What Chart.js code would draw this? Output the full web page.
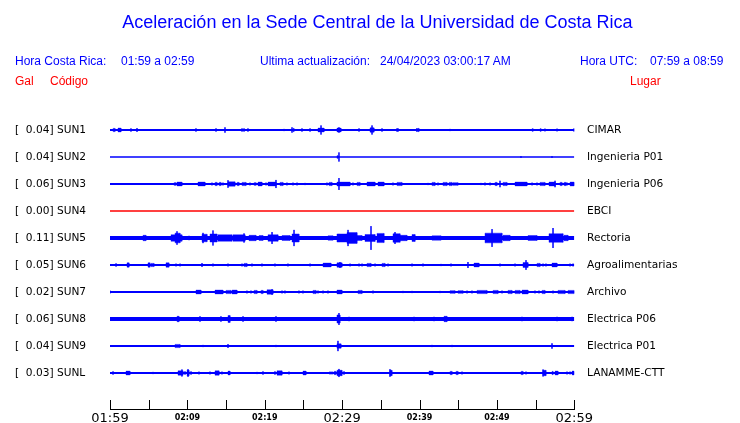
<!DOCTYPE html>
<html>
<head>
<meta charset="utf-8">
<script src="https://cdn.jsdelivr.net/npm/chart.js@4.4.0/dist/chart.umd.min.js"></script>
<style>
  html, body { margin:0; padding:0; background:#fff; overflow:hidden; }
  #wrap { position:relative; width:740px; height:423px; }
  canvas { position:absolute; left:0; top:0; }
  .t { position:absolute; font-family:'Liberation Sans', Arial, sans-serif; font-size:12px; line-height:14px; white-space:pre; }
  .blue { color:#0000ff; }
  .red { color:#ff0000; }
  #title { position:absolute; left:15px; width:725px; top:12px; text-align:center; font-family:'Liberation Sans', Arial, sans-serif; font-size:18px; line-height:20px; color:#0000ff; }
</style>
</head>
<body>
<div id="wrap">
  <canvas id="c" width="740" height="423"></canvas>
  <div id="title">Aceleración en la Sede Central de la Universidad de Costa Rica</div>
  <div class="t blue" style="left:15px; top:54px;">Hora Costa Rica:</div>
  <div class="t blue" style="left:121px; top:54px;">01:59 a 02:59</div>
  <div class="t blue" style="left:260px; top:54px;">Ultima actualización:</div>
  <div class="t blue" style="left:380px; top:54px;">24/04/2023 03:00:17 AM</div>
  <div class="t blue" style="left:580px; top:54px;">Hora UTC:</div>
  <div class="t blue" style="left:650px; top:54px;">07:59 a 08:59</div>
  <div class="t red" style="left:15px; top:73.5px;">Gal</div>
  <div class="t red" style="left:50px; top:73.5px;">Código</div>
  <div class="t red" style="left:630px; top:73.5px;">Lugar</div>
</div>
<script>
// ---------- data ----------
const stationCodes = ['SUN1','SUN2','SUN3','SUN4','SUN5','SUN6','SUN7','SUN8','SUN9','SUNL'];
const stationNames = ['CIMAR','Ingenieria P01','Ingenieria P06','EBCI','Rectoria','Agroalimentarias','Archivo','Electrica P06','Electrica P01','LANAMME-CTT'];
const peakGal = [0.04, 0.04, 0.06, 0.00, 0.11, 0.05, 0.02, 0.06, 0.04, 0.03];
const timeLabels = ['01:59','02:09','02:19','02:29','02:39','02:49','02:59'];
const tickMinutes = [0,5,10,15,20,25,30,35,40,45,50,55,60];

// bursts: [start minute, end minute, half amplitude (fraction of trace spacing)]
const sun1Bursts = [[0.39,0.65,0.06],[1.03,1.42,0.07],[2.71,2.71,0.06],[3.49,3.49,0.07],[11.11,11.11,0.06],[13.70,13.70,0.06],[14.86,14.86,0.1],[17.06,17.06,0.06],[17.32,17.32,0.06],[17.83,17.83,0.06],[22.49,22.49,0.04],[23.52,23.52,0.1],[23.65,23.78,0.06],[24.81,24.81,0.06],[25.85,25.85,0.06],[26.88,27.66,0.07],[27.27,27.27,0.17],[29.33,29.85,0.07],[29.59,29.59,0.1],[32.18,32.18,0.06],[33.60,34.12,0.08],[33.86,33.86,0.17],[35.15,35.15,0.06],[37.09,37.09,0.06],[37.22,37.22,0.06],[39.67,39.67,0.07],[39.80,39.93,0.06],[43.94,43.94,0.04],[53.11,53.11,0.03],[54.54,54.67,0.05],[55.57,55.70,0.05],[56.21,56.21,0.05],[57.77,57.77,0.05],[59.97,59.97,0.06]];
const sun2Bursts = [[29.33,29.46,0.05],[29.59,29.59,0.17],[53.11,53.11,0.03],[57.12,57.12,0.03]];
const sun3Bursts = [[8.27,8.53,0.05],[8.66,9.30,0.07],[11.37,12.28,0.07],[13.18,13.18,0.05],[13.57,13.83,0.06],[14.09,14.34,0.06],[14.60,14.60,0.05],[15.25,16.15,0.08],[15.25,15.25,0.14],[16.41,16.67,0.06],[17.06,17.58,0.06],[18.09,18.09,0.05],[18.61,18.87,0.05],[19.13,19.64,0.07],[20.16,20.16,0.05],[20.42,21.45,0.07],[21.45,21.45,0.15],[21.97,22.36,0.06],[22.87,22.87,0.05],[23.65,23.65,0.05],[24.17,24.17,0.05],[25.20,25.20,0.04],[28.04,28.04,0.05],[28.30,28.69,0.06],[29.33,31.02,0.07],[29.59,29.59,0.22],[31.40,31.40,0.05],[31.92,32.31,0.06],[33.21,34.25,0.07],[34.63,35.41,0.07],[36.57,36.57,0.05],[37.09,37.73,0.06],[41.10,41.10,0.04],[41.61,42.00,0.06],[42.39,42.39,0.05],[43.03,43.55,0.06],[43.81,44.20,0.06],[44.33,44.97,0.05],[47.94,47.94,0.04],[48.46,48.46,0.05],[49.11,49.11,0.05],[49.75,50.01,0.06],[50.40,50.40,0.12],[50.79,51.30,0.06],[52.34,53.89,0.07],[54.54,54.54,0.05],[55.18,55.18,0.05],[55.57,56.21,0.06],[56.73,57.51,0.07],[57.51,57.51,0.12],[58.15,58.41,0.06],[58.67,58.93,0.06],[59.06,59.06,0.05],[59.45,60,0.07]];
const sun4Bursts = [];
const sun5Bursts = [[4.26,4.65,0.1],[7.88,9.30,0.12],[8.40,9.05,0.18],[8.66,8.66,0.25],[10.21,10.21,0.08],[11.89,12.54,0.14],[12.02,12.02,0.19],[12.92,13.83,0.15],[13.31,13.31,0.28],[13.96,15.77,0.12],[15.89,17.45,0.12],[17.32,17.32,0.17],[17.96,18.87,0.1],[19.26,19.77,0.09],[20.42,21.71,0.12],[20.94,20.94,0.22],[22.23,23.26,0.09],[23.52,24.42,0.15],[23.78,23.78,0.3],[27.66,27.66,0.07],[28.17,28.82,0.08],[29.59,29.59,0.15],[29.33,30.63,0.15],[30.76,30.76,0.3],[30.63,31.92,0.2],[31.92,32.57,0.09],[32.95,34.25,0.13],[33.73,33.73,0.44],[34.50,35.41,0.17],[36.57,37.48,0.16],[36.83,36.83,0.22],[37.48,38.38,0.1],[39.03,39.42,0.13],[41.61,42.78,0.08],[43.55,43.55,0.07],[44.58,44.58,0.05],[46.14,46.14,0.06],[47.56,47.56,0.05],[48.46,50.66,0.18],[49.37,49.37,0.33],[50.79,51.69,0.1],[54.02,55.18,0.09],[56.73,58.54,0.16],[57.25,57.25,0.37],[58.67,59.19,0.1]];
const sun6Bursts = [[0.78,0.78,0.06],[2.20,2.46,0.08],[4.91,5.17,0.08],[5.30,5.69,0.06],[7.24,7.62,0.08],[8.53,8.53,0.05],[9.05,9.05,0.05],[11.89,11.89,0.07],[13.31,13.31,0.05],[15.25,15.25,0.05],[17.06,17.06,0.05],[17.32,17.70,0.06],[18.35,18.35,0.05],[19.64,19.64,0.05],[21.32,21.32,0.05],[23.00,23.00,0.05],[25.85,25.85,0.05],[27.53,28.56,0.07],[29.33,29.98,0.08],[29.72,29.72,0.11],[31.02,31.02,0.05],[32.18,32.18,0.05],[32.57,32.57,0.05],[33.21,33.73,0.06],[34.25,34.25,0.05],[35.15,35.54,0.06],[35.93,35.93,0.05],[39.03,39.03,0.05],[40.45,40.45,0.05],[42.78,42.78,0.04],[44.07,44.07,0.05],[46.26,46.26,0.11],[47.04,47.69,0.07],[50.40,50.40,0.05],[52.34,52.34,0.05],[53.37,54.02,0.09],[53.76,53.76,0.18],[55.18,55.57,0.06],[55.96,55.96,0.05],[56.34,56.34,0.05],[57.12,57.77,0.07],[59.45,59.45,0.05],[59.84,59.84,0.05]];
const sun7Bursts = [[0.00,0.00,0.05],[5.43,5.43,0.03],[10.34,10.34,0.03],[11.11,11.76,0.07],[13.57,14.60,0.07],[14.99,15.64,0.06],[15.77,16.41,0.07],[17.70,17.70,0.05],[18.22,18.22,0.05],[18.61,19.00,0.06],[19.51,19.77,0.06],[20.29,21.06,0.08],[20.94,20.94,0.1],[22.23,22.23,0.05],[22.61,22.61,0.05],[24.42,24.42,0.05],[24.94,24.94,0.05],[26.23,26.62,0.06],[26.88,26.88,0.05],[27.53,27.53,0.05],[28.17,28.17,0.05],[29.33,29.98,0.07],[32.05,32.57,0.06],[33.99,33.99,0.05],[37.86,37.86,0.04],[39.03,39.03,0.04],[42.65,42.65,0.04],[43.94,44.58,0.05],[44.97,45.62,0.05],[46.14,46.14,0.05],[46.78,46.78,0.05],[47.43,48.72,0.06],[49.50,50.14,0.06],[50.66,50.66,0.05],[51.43,51.95,0.06],[52.34,52.98,0.06],[53.24,54.02,0.07],[54.92,54.92,0.05],[55.44,55.44,0.05],[55.83,56.21,0.06],[57.25,57.25,0.05],[57.89,58.80,0.06],[59.19,60,0.06]];
const sun8Bursts = [[8.66,8.92,0.1],[11.63,11.63,0.1],[14.34,14.34,0.1],[15.25,15.51,0.13],[17.19,17.19,0.1],[21.45,21.45,0.1],[25.72,25.72,0.06],[29.33,29.72,0.15],[29.59,29.59,0.22],[30.89,30.89,0.08],[39.29,39.29,0.08],[41.87,41.87,0.08],[43.16,43.55,0.1],[53.24,53.24,0.08],[57.77,57.77,0.08],[59.71,59.71,0.08]];
const sun9Bursts = [[8.40,9.05,0.06],[12.02,12.02,0.04],[15.25,15.25,0.07],[21.45,21.45,0.04],[29.33,29.85,0.08],[29.46,29.46,0.19],[41.61,41.61,0.04],[44.20,44.20,0.04],[57.12,57.12,0.1]];
const sunlBursts = [[0.39,0.39,0.06],[2.07,2.58,0.07],[5.56,5.56,0.04],[8.79,9.43,0.08],[9.30,9.30,0.13],[9.69,9.69,0.06],[9.95,10.21,0.1],[10.08,10.08,0.14],[10.47,10.47,0.06],[11.50,11.50,0.05],[12.92,12.92,0.05],[13.57,14.09,0.08],[14.47,14.47,0.05],[15.25,15.51,0.07],[19.00,19.00,0.04],[19.77,19.77,0.06],[21.32,21.32,0.06],[21.58,22.23,0.08],[23.13,23.13,0.05],[24.94,25.33,0.07],[28.43,28.43,0.05],[28.69,28.69,0.05],[28.95,29.21,0.06],[29.33,29.98,0.1],[29.59,29.59,0.15],[30.24,30.24,0.06],[36.18,36.44,0.1],[36.18,36.18,0.14],[41.22,41.74,0.07],[43.94,44.20,0.06],[44.71,44.97,0.06],[45.49,45.49,0.05],[53.11,53.37,0.06],[53.76,53.76,0.05],[55.96,56.34,0.1],[55.96,55.96,0.13],[57.12,57.25,0.06],[57.51,57.89,0.07],[59.06,59.06,0.05],[59.45,59.45,0.05],[59.71,59.97,0.07]];

const burstLists = [sun1Bursts, sun2Bursts, sun3Bursts, sun4Bursts, sun5Bursts, sun6Bursts, sun7Bursts, sun8Bursts, sun9Bursts, sunlBursts];

// ---------- styles ----------
const baseWidths = [2, 1.3, 2, 1.5, 4, 2, 2, 4, 2, 2];
const traceColors = ['#0000ff','#0000ff','#0000ff','#ff0000','#0000ff','#0000ff','#0000ff','#0000ff','#0000ff','#0000ff'];

const rowValues = stationCodes.map((_, i) => 9.5 - i);

const datasets = [];
stationCodes.forEach((code, i) => {
  const b = rowValues[i];
  datasets.push({
    data: [{x: 0, y: b}, {x: 60, y: b}],
    borderColor: traceColors[i], borderWidth: baseWidths[i],
    pointRadius: 0, fill: false, tension: 0
  });
  burstLists[i].forEach(([t1, t2, a]) => {
    const spike = t1 === t2;
    datasets.push({
      data: [{x: t1, y: b - a}, {x: t1, y: b + a}, {x: t2, y: b + a}, {x: t2, y: b - a}, {x: t1, y: b - a}],
      borderColor: traceColors[i], backgroundColor: traceColors[i], borderWidth: spike ? 1 : 0.4,
      pointRadius: 0, fill: 'shape', tension: 0
    });
  });
});

const upTicks = {
  id: 'upTicks',
  afterDraw(chart) {
    const s = chart.scales.x, ctx = chart.ctx;
    ctx.save();
    ctx.strokeStyle = '#000';
    ctx.lineWidth = 1;
    s.ticks.forEach(t => {
      const px = Math.round(s.getPixelForValue(t.value)) + 0.5;
      ctx.beginPath();
      ctx.moveTo(px, s.top + 0.5);
      ctx.lineTo(px, s.top - 9);
      ctx.stroke();
    });
    ctx.restore();
  }
};

const bigFont = {family: 'DejaVu Sans', size: 13, lineHeight: '16px'};
const smallFont = {family: 'DejaVu Sans', size: 8, weight: 'bold', lineHeight: '14px'};
const labelFont = {family: 'DejaVu Sans', size: 10.6};

new Chart(document.getElementById('c'), {
  type: 'line',
  data: { datasets },
  plugins: [upTicks],
  options: {
    responsive: false,
    animation: false,
    events: [],
    layout: { padding: { left: 15, right: 0, top: 116.5, bottom: 0 } },
    plugins: { legend: { display: false }, tooltip: { enabled: false }, title: { display: false } },
    scales: {
      x: {
        type: 'linear', position: 'bottom', min: 0, max: 60,
        grid: { display: false, drawTicks: false },
        border: { display: true, color: '#000', width: 1 },
        afterBuildTicks: s => { s.ticks = tickMinutes.map(v => ({ value: v })); },
        afterFit: s => { s.height = 14; },
        ticks: {
          autoSkip: false, maxRotation: 0, padding: 2, color: '#000',
          callback: (v, i) => (i % 2 === 0 ? timeLabels[i / 2] : ''),
          font: ctx => (ctx.index % 6 === 0 ? bigFont : smallFont)
        }
      },
      y: {
        type: 'linear', position: 'left', min: -0.8333, max: 10,
        grid: { display: false, drawTicks: false },
        border: { display: false },
        afterBuildTicks: s => { s.ticks = rowValues.map(v => ({ value: v })); },
        afterFit: s => { s.width = 95; },
        ticks: {
          crossAlign: 'far', padding: 0, color: '#000', font: labelFont,
          callback: (v, i) => '[' + peakGal[i].toFixed(2).padStart(6, ' ') + '] ' + stationCodes[i]
        }
      },
      y2: {
        type: 'linear', position: 'right', min: -0.8333, max: 10,
        grid: { display: false, drawTicks: true, tickLength: 12.7 },
        border: { display: false },
        afterBuildTicks: s => { s.ticks = rowValues.map(v => ({ value: v })); },
        afterFit: s => { s.width = 165.7; },
        ticks: {
          padding: 0, color: '#000', font: labelFont,
          callback: (v, i) => stationNames[i]
        }
      }
    }
  }
});
</script>
</body>
</html>
